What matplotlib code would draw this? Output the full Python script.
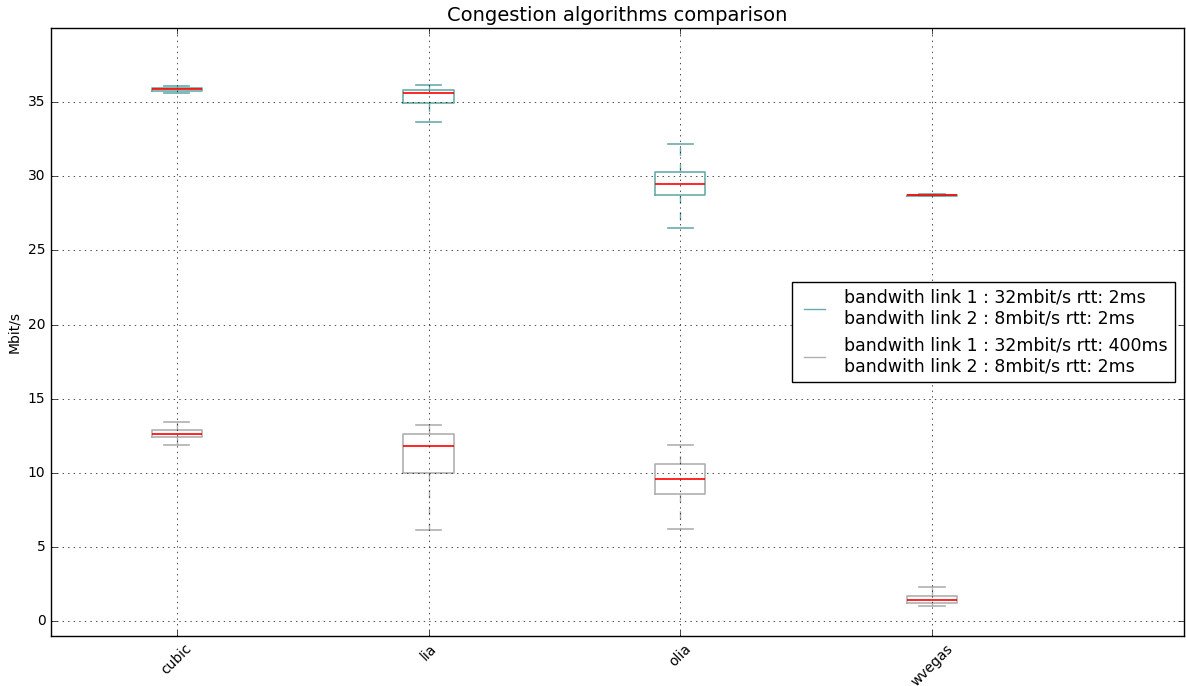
import matplotlib
matplotlib.use('Agg')
import matplotlib.pyplot as plt
from matplotlib.lines import Line2D

plt.style.use('classic')

algos = ['cubic', 'lia', 'olia', 'wvegas']

# teal series: rtt 2ms / 2ms
low1 = [35.6, 33.7, 26.5, 28.68]
q1_1 = [35.74, 34.97, 28.75, 28.70]
med1 = [35.87, 35.65, 29.47, 28.73]
q3_1 = [35.97, 35.83, 30.28, 28.76]
high1 = [36.12, 36.17, 32.19, 28.78]

# gray series: rtt 400ms / 2ms
low2 = [11.87, 6.14, 6.2, 1.03]
q1_2 = [12.4, 9.96, 8.58, 1.23]
med2 = [12.63, 11.8, 9.6, 1.39]
q3_2 = [12.9, 12.6, 10.63, 1.71]
high2 = [13.4, 13.22, 11.9, 2.27]

labels = ['bandwith link 1 : 32mbit/s rtt: 2ms\nbandwith link 2 : 8mbit/s rtt: 2ms',
          'bandwith link 1 : 32mbit/s rtt: 400ms\nbandwith link 2 : 8mbit/s rtt: 2ms']


def stats(lo, a, m, b, hi):
    return [dict(whislo=lo[i], q1=a[i], med=m[i], q3=b[i], whishi=hi[i], fliers=[])
            for i in range(len(m))]


fig = plt.figure(figsize=(11.86, 6.86), dpi=100, facecolor='white')
ax = fig.add_axes([0.043, 0.073, 0.955, 0.886])

pos = list(range(1, len(algos) + 1))
teal = '#6aadad'
gray = '#b0b0b0'
for st, col in [(stats(low1, q1_1, med1, q3_1, high1), teal),
                (stats(low2, q1_2, med2, q3_2, high2), gray)]:
    ax.bxp(st, positions=pos, widths=0.2, showfliers=False,
           boxprops=dict(color=col, linewidth=1.2),
           whiskerprops=dict(color=col, linestyle='--', linewidth=1.0),
           capprops=dict(color=col, linewidth=1.2),
           medianprops=dict(color='red', linewidth=1.2))

ax.set_xlim(0.5, 5.0)
ax.set_ylim(-1, 40)
ax.set_yticks(range(0, 40, 5))
ax.set_xticks(pos)
ax.set_xticklabels(algos, rotation=45)
ax.tick_params(labelsize=10)
ax.grid(True, color='black', linestyle=':')
ax.set_ylabel('Mbit/s', fontsize=10)
ax.set_title('Congestion algorithms comparison', fontsize=14)

handles = [Line2D([], [], color=teal), Line2D([], [], color=gray)]
ax.legend(handles, labels, loc='center right', fontsize=12.5, handlelength=1.8)

fig.savefig('out.png', dpi=100, facecolor='white')
